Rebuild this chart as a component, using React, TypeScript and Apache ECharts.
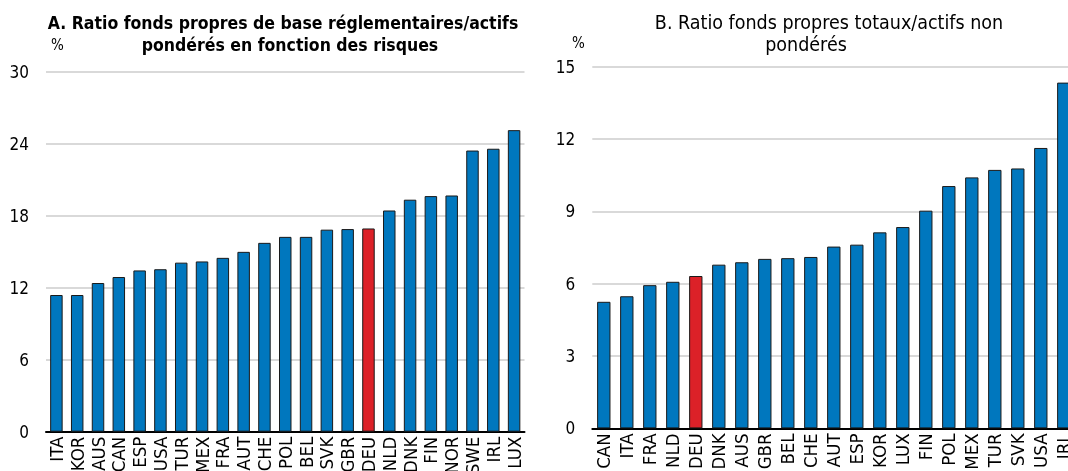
import React, { useEffect, useRef } from "react";
import * as echarts from "echarts";

const catsA = ["ITA","KOR","AUS","CAN","ESP","USA","TUR","MEX","FRA","AUT","CHE","POL","BEL","SVK","GBR","DEU","NLD","DNK","FIN","NOR","SWE","IRL","LUX"];
const valsA = [11.4,11.4,12.4,12.9,13.45,13.55,14.1,14.2,14.5,15.0,15.75,16.25,16.25,16.85,16.9,16.95,18.45,19.35,19.65,19.7,23.45,23.6,25.15];
const catsB = ["CAN","ITA","FRA","NLD","DEU","DNK","AUS","GBR","BEL","CHE","AUT","ESP","KOR","LUX","FIN","POL","MEX","TUR","SVK","USA","IRL"];
const valsB = [5.25,5.48,5.94,6.08,6.32,6.79,6.89,7.03,7.06,7.11,7.54,7.62,8.13,8.35,9.03,10.05,10.41,10.72,10.78,11.63,14.34];
const highlight = "DEU";

const FONT = "'Liberation Sans Narrow','Arial Narrow','DejaVu Sans Condensed',sans-serif";
const BLUE = "#0077be";
const RED = "#dc2128";

function barData(cats: string[], vals: number[]) {
  return vals.map((v, i) => ({
    value: v,
    itemStyle: { color: cats[i] === highlight ? RED : BLUE },
  }));
}

export default function App() {
  const ref = useRef<HTMLDivElement>(null);
  useEffect(() => {
    if (!ref.current) return;
    const chart = echarts.init(ref.current, null, { renderer: "svg" });
    const xAxisCommon = {
      type: "category" as const,
      axisLine: { lineStyle: { color: "#000", width: 2 } },
      axisTick: { show: false },
      axisLabel: { rotate: 90, fontFamily: FONT, fontSize: 18.5, color: "#000", margin: 5, interval: 0 },
    };
    const yAxisCommon = {
      type: "value" as const,
      min: 0,
      axisLine: { show: false },
      axisTick: { show: false },
      axisLabel: { fontFamily: FONT, fontSize: 17, color: "#000", margin: 17 },
      splitLine: { lineStyle: { color: "#cccccc", width: 1.5 } },
    };
    chart.setOption({
      animation: false,
      grid: [
        { left: 46, top: 72, width: 478.5, height: 359.7, containLabel: false, outerBoundsMode: "none" },
        { left: 592.3, top: 66.7, width: 483, height: 361.7, containLabel: false, outerBoundsMode: "none" },
      ],
      xAxis: [
        { ...xAxisCommon, gridIndex: 0, data: catsA },
        { ...xAxisCommon, gridIndex: 1, data: catsB },
      ],
      yAxis: [
        { ...yAxisCommon, gridIndex: 0, max: 30, interval: 6 },
        { ...yAxisCommon, gridIndex: 1, max: 15, interval: 3 },
      ],
      series: [
        {
          type: "bar", xAxisIndex: 0, yAxisIndex: 0, barWidth: "60%",
          itemStyle: { borderColor: "#1a1a1a", borderWidth: 1 },
          data: barData(catsA, valsA),
        },
        {
          type: "bar", xAxisIndex: 1, yAxisIndex: 1, barWidth: "58%",
          itemStyle: { borderColor: "#1a1a1a", borderWidth: 1 },
          data: barData(catsB, valsB),
        },
      ],
      graphic: [
        { type: "text", x: 283, y: 32, style: { text: "A. Ratio fonds propres de base réglementaires/actifs", font: `bold 17.5px ${FONT}`, fill: "#000", textAlign: "center", textVerticalAlign: "bottom" } },
        { type: "text", x: 290, y: 54, style: { text: "pondérés en fonction des risques", font: `bold 17.5px ${FONT}`, fill: "#000", textAlign: "center", textVerticalAlign: "bottom" } },
        { type: "text", x: 829, y: 32, style: { text: "B. Ratio fonds propres totaux/actifs non", font: `19.5px ${FONT}`, fill: "#000", textAlign: "center", textVerticalAlign: "bottom" } },
        { type: "text", x: 806, y: 54, style: { text: "pondérés", font: `19.5px ${FONT}`, fill: "#000", textAlign: "center", textVerticalAlign: "bottom" } },
        { type: "text", x: 51, y: 52, style: { text: "%", font: `15px ${FONT}`, fill: "#000", textAlign: "left", textVerticalAlign: "bottom" } },
        { type: "text", x: 572, y: 50, style: { text: "%", font: `15px ${FONT}`, fill: "#000", textAlign: "left", textVerticalAlign: "bottom" } },
      ],
    });
    return () => chart.dispose();
  }, []);
  return <div ref={ref} style={{ position: "fixed", left: 0, top: 0, width: 1090, height: 471 }} />;
}
